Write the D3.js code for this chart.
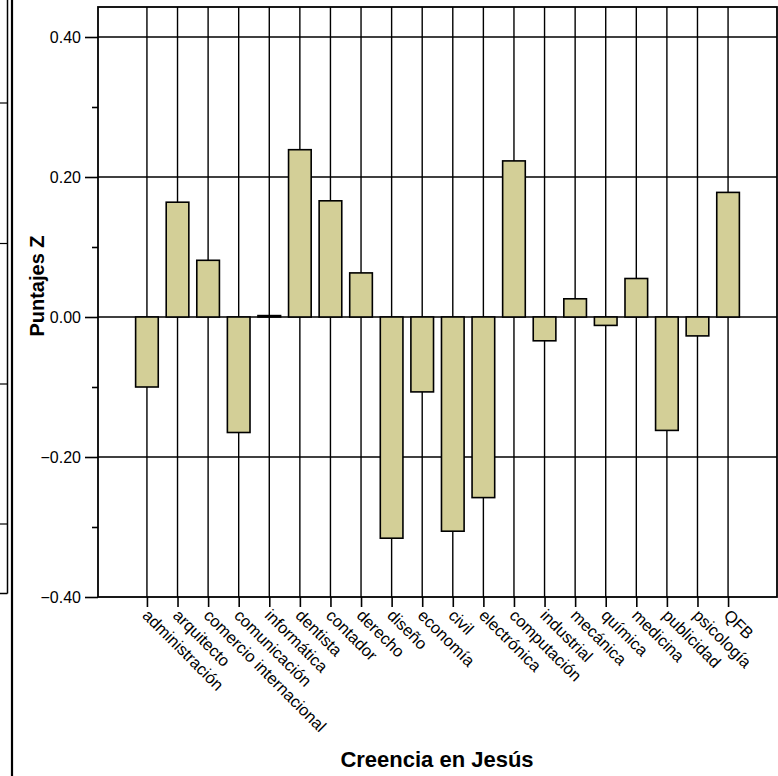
<!DOCTYPE html>
<html>
<head>
<meta charset="utf-8">
<title>Creencia en Jesús</title>
<style>
  body { margin: 0; background: #fff; }
  svg { display: block; }
  text { font-family: "Liberation Sans", Arial, sans-serif; fill: #000; }
</style>
<script src="https://d3js.org/d3.v7.min.js"></script>
</head>
<body>
<script>
// carreras y sus puntajes Z
var carreras = ["administración", "arquitecto", "comercio internacional", "comunicación",
  "informática", "dentista", "contador", "derecho", "diseño", "economía", "civil",
  "electrónica", "computación", "industrial", "mecánica", "química", "medicina",
  "publicidad", "psicología", "QFB"];
var puntajes = [-0.100, 0.164, 0.081, -0.165, 0.002, 0.239, 0.166, 0.063, -0.316, -0.107,
  -0.306, -0.258, 0.223, -0.034, 0.026, -0.012, 0.055, -0.162, -0.027, 0.178];
var ticksMayores = [-0.4, -0.2, 0.0, 0.2, 0.4];
var ticksMenores = [-0.3, -0.1, 0.1, 0.3];

var W = 778, H = 776;
var mLeft = 98, mRight = 777, mTop = 7, mBottom = 597;

var svg = d3.select("body").append("svg").attr("width", W).attr("height", H);

// restos del panel vecino recortado a la izquierda
svg.append("line").attr("x1", 7.5).attr("x2", 7.5).attr("y1", 0).attr("y2", 593.5)
  .attr("stroke", "#000").attr("stroke-width", 1.5);
svg.append("line").attr("x1", 0).attr("x2", 7.5).attr("y1", 593.5).attr("y2", 593.5)
  .attr("stroke", "#000").attr("stroke-width", 1.5);
[103, 243.5, 384, 524].forEach(function(v) {
  svg.append("line").attr("x1", 0).attr("x2", 7.5).attr("y1", v).attr("y2", v)
    .attr("stroke", "#000").attr("stroke-width", 1.2);
});
svg.append("line").attr("x1", 12).attr("x2", 12).attr("y1", 0).attr("y2", H)
  .attr("stroke", "#000").attr("stroke-width", 2.2);

var x = d3.scalePoint().domain(carreras).range([mLeft, mRight]).padding(1.6);
var y = d3.scaleLinear().domain([-0.4, 0.4]).range([mBottom, 37]);
var barW = x.step() * 0.74;

// rejilla
var g = svg.append("g");
g.selectAll(".vgrid").data(carreras).enter().append("line")
  .attr("x1", function(d) { return x(d); }).attr("x2", function(d) { return x(d); })
  .attr("y1", mTop).attr("y2", mBottom)
  .attr("stroke", "#000").attr("stroke-width", 1.4);
g.selectAll(".hgrid").data(ticksMayores.slice(1)).enter().append("line")
  .attr("x1", mLeft).attr("x2", mRight)
  .attr("y1", function(d) { return y(d); }).attr("y2", function(d) { return y(d); })
  .attr("stroke", "#000").attr("stroke-width", 1.4);

// barras
g.selectAll(".bar").data(puntajes).enter().append("rect")
  .attr("x", function(d, i) { return x(carreras[i]) - barW / 2; })
  .attr("y", function(d) { return y(Math.max(0, d)); })
  .attr("width", barW)
  .attr("height", function(d) { return Math.abs(y(d) - y(0)); })
  .attr("fill", "#d3cf97").attr("stroke", "#000").attr("stroke-width", 1.6);

// marco
svg.append("rect").attr("x", mLeft).attr("y", mTop)
  .attr("width", mRight - mLeft).attr("height", mBottom - mTop)
  .attr("fill", "none").attr("stroke", "#000").attr("stroke-width", 1.8);

// eje Y
var yAxis = d3.axisLeft(y).tickValues(ticksMayores).tickSize(13).tickPadding(4)
  .tickFormat(d3.format(".2f"));
var ya = svg.append("g").attr("transform", "translate(" + mLeft + ",0)").call(yAxis);
ya.attr("font-size", null).attr("font-family", null);
ya.select(".domain").remove();
ya.selectAll("line").attr("stroke-width", 1.6);
ya.selectAll("text").style("font-size", "16px");
var ym = d3.axisLeft(y).tickValues(ticksMenores).tickSize(6).tickFormat("");
var yma = svg.append("g").attr("transform", "translate(" + mLeft + ",0)").call(ym);
yma.select(".domain").remove();
yma.selectAll("line").attr("stroke-width", 1.6);

// eje X
var xAxis = d3.axisBottom(x).tickSize(10).tickFormat("");
var xa = svg.append("g").attr("transform", "translate(0," + mBottom + ")").call(xAxis);
xa.select(".domain").remove();
xa.selectAll("line").attr("stroke-width", 1.6);
svg.selectAll(".xlab").data(carreras).enter().append("text")
  .attr("transform", function(d) { return "translate(" + (x(d) + 3) + "," + (mBottom + 11) + ") rotate(45)"; })
  .attr("dy", "0.72em")
  .style("font-size", "16.5px")
  .text(function(d) { return d; });

// títulos
svg.append("text")
  .attr("transform", "translate(44,286) rotate(-90)")
  .attr("text-anchor", "middle")
  .style("font-size", "20px").style("font-weight", "bold")
  .text("Puntajes Z");
svg.append("text")
  .attr("x", 437).attr("y", 767)
  .attr("text-anchor", "middle")
  .style("font-size", "22px").style("font-weight", "bold")
  .text("Creencia en Jesús");
</script>
</body>
</html>
